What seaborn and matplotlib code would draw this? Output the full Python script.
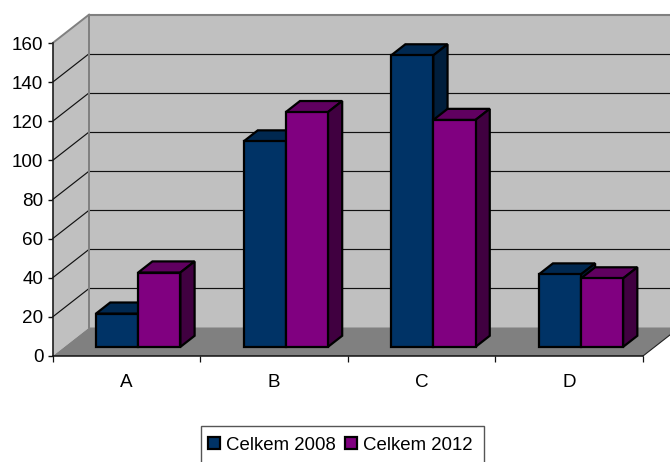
import matplotlib
matplotlib.use("Agg")
import matplotlib.pyplot as plt
import numpy as np
import pandas as pd
import seaborn as sns
from matplotlib.patches import Polygon, Rectangle
from matplotlib.lines import Line2D

categories = ["A", "B", "C", "D"]
series_names = ["Celkem 2008", "Celkem 2012"]
values_2008 = [17, 105, 149, 37]
values_2012 = [38, 120, 116, 35]
y_ticks = list(range(0, 161, 20))

front_colors = ["#003366", "#800080"]
top_colors = ["#002850", "#600060"]
side_colors = ["#001E3C", "#400040"]

W, H = 670, 462
DEPTH_X, DEPTH_Y = 36.5, 28.5   # pixel shift from the front plane to the back wall
BAR_NEAR, BAR_FAR = 0.32, 0.71  # depth range occupied by the bars

sns.set_style("ticks")
plt.rcParams["font.family"] = ["Liberation Sans", "DejaVu Sans"]

fig = plt.figure(figsize=(W / 100, H / 100), dpi=100)
ax = fig.add_axes([52.7 / W, 1 - 356 / H, (643 - 52.7) / W, (356 - 43) / H])

frame = pd.DataFrame({
    "category": categories * 2,
    "series": [series_names[0]] * 4 + [series_names[1]] * 4,
    "value": values_2008 + values_2012,
})
sns.barplot(data=frame, x="category", y="value", hue="series", palette=front_colors,
            saturation=1, width=0.572, gap=0, edgecolor="black", linewidth=1.6, ax=ax)
ax.set_xlim(-0.5, 3.5)
ax.set_ylim(0, 160)
ax.set_xlabel("")
ax.set_ylabel("")
ax.patch.set_visible(False)
sns.despine(ax=ax, top=True, right=True)
for side in ("left", "bottom"):
    ax.spines[side].set_linewidth(1.1)
    ax.spines[side].set_color("#111111")
    ax.spines[side].set_zorder(30)

ax.set_yticks(y_ticks)
ax.tick_params(axis="y", length=3.8, width=1.0, color="#111111", pad=3, labelsize=13.6, labelcolor="black")
ax.set_xticks(range(4), categories)
ax.tick_params(axis="x", which="major", length=0, pad=13, labelsize=13.6, labelcolor="black")
ax.set_xticks(np.arange(-0.5, 4), minor=True)
ax.tick_params(axis="x", which="minor", length=4.6, width=0.9, color="#111111")


def project(x, y, depth):
    """Data point on a plane `depth` of the way to the back wall, in display pixels."""
    px, py = ax.transData.transform((x, y))
    return (px + depth * DEPTH_X, py + depth * DEPTH_Y)


def face(points, color, zorder, **kwargs):
    verts = [project(*p) for p in points]
    ax.add_artist(Polygon(verts, closed=True, facecolor=color, transform=None,
                          clip_on=False, zorder=zorder, **kwargs))


x0, x1 = ax.get_xlim()
y_top = ax.get_ylim()[1]

# walls and floor
face([(x0, 0, 0), (x0, y_top, 0), (x0, y_top, 1), (x0, 0, 1)], "#C0C0C0", 1, edgecolor="none")
face([(x0, 0, 1), (x0, y_top, 1), (x1, y_top, 1), (x1, 0, 1)], "#C0C0C0", 1, edgecolor="none")
face([(x0, 0, 0), (x0, 0, 1), (x1, 0, 1), (x1, 0, 0)], "#808080", 2, edgecolor="none")


def seam(a, b, color, lw, zorder=3):
    pa, pb = project(*a), project(*b)
    ax.add_artist(Line2D([pa[0], pb[0]], [pa[1], pb[1]], color=color, lw=lw,
                         transform=None, clip_on=False, zorder=zorder))


# gridlines running along the side wall and the back wall
for v in y_ticks[1:-1]:
    seam((x0, v, 0), (x0, v, 1), "#111111", 0.85)
    seam((x0, v, 1), (x1, v, 1), "#111111", 0.85)
seam((x0, y_top, 0), (x0, y_top, 1), "#808080", 1.4)
seam((x0, y_top, 1), (x1, y_top, 1), "#808080", 1.5)
seam((x0, 0, 1), (x0, y_top, 1), "#808080", 1.4)
seam((x1, 0, 0), (x1, 0, 1), "#222222", 0.8)

# depth faces for each column, built from the drawn bars
bars = [p for c in ax.containers for p in c]
for i, bar in enumerate(bars):
    series_idx = i // 4
    z = 5 + series_idx * 3
    left, right = bar.get_x(), bar.get_x() + bar.get_width()
    top = bar.get_height()
    edge = dict(edgecolor="black", linewidth=1.6, joinstyle="miter")
    face([(left, top, BAR_NEAR), (left, top, BAR_FAR), (right, top, BAR_FAR), (right, top, BAR_NEAR)],
         top_colors[series_idx], z, **edge)
    face([(right, 0, BAR_NEAR), (right, top, BAR_NEAR), (right, top, BAR_FAR), (right, 0, BAR_FAR)],
         side_colors[series_idx], z, **edge)
    shift = matplotlib.transforms.Affine2D().translate(BAR_NEAR * DEPTH_X, BAR_NEAR * DEPTH_Y)
    bar.set_transform(ax.transData + shift)
    bar.set_clip_on(False)
    bar.set_zorder(z + 1)

# legend, whose frame runs off the lower edge of the figure
handles, labels = ax.get_legend_handles_labels()
legend = ax.legend(handles, labels, ncol=2, frameon=False, fontsize=13.4,
                   loc="center left", bbox_to_anchor=(201 / W, 1 - 445 / H),
                   bbox_transform=fig.transFigure, borderaxespad=0, borderpad=0.36,
                   handlelength=0.65, handleheight=0.65, handletextpad=0.36, columnspacing=0.45,
                   labelcolor="black")
legend.set_zorder(40)
fig.add_artist(Rectangle((201 / W, 1 - 464 / H), 283 / W, 38 / H, transform=fig.transFigure,
                         facecolor="white", edgecolor="#555555", linewidth=1.0, zorder=-1))

fig.savefig("out.png", dpi=100)
